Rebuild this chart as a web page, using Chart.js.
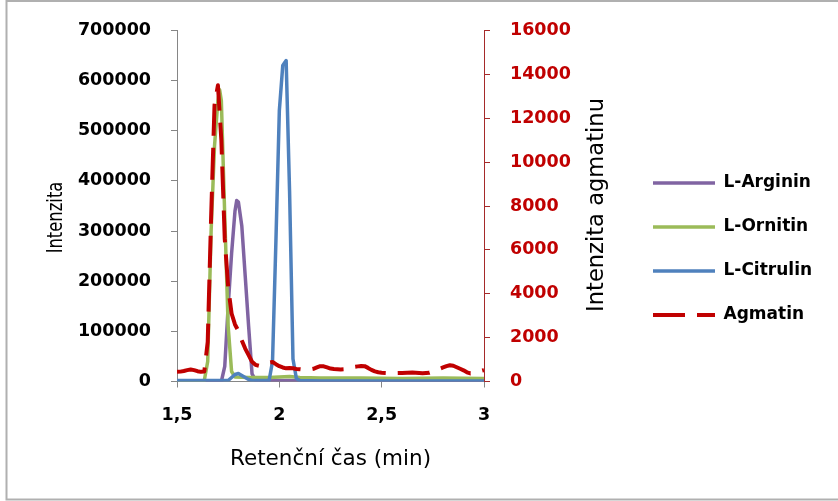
<!DOCTYPE html>
<html>
<head>
<meta charset="utf-8">
<script src="https://cdn.jsdelivr.net/npm/chart.js@4.4.1/dist/chart.umd.min.js"></script>
<style>
  html, body { margin: 0; padding: 0; background: #fff; }
  #wrap { width: 838px; height: 501px; }
</style>
</head>
<body>
<div id="wrap"><canvas id="chart" width="838" height="501"></canvas></div>
<script>
// retention times (min) and intensities
const argininTime = [1.5, 1.6, 1.7167, 1.7333, 1.75, 1.7667, 1.7833, 1.7917, 1.8, 1.8167, 1.8333, 1.85, 1.8667, 1.8833, 2.0, 2.5, 3.0];
const argininValues = [0, 0, 0, 30000, 150000, 255000, 340000, 361000, 358000, 310000, 210000, 110000, 15000, 3000, 2000, 1000, 1000];

const ornitinTime = [1.5, 1.6333, 1.65, 1.6667, 1.6833, 1.7, 1.7083, 1.7167, 1.7333, 1.75, 1.7667, 1.7833, 1.85, 1.95, 2.0, 2.05, 2.1, 2.2, 2.4, 2.6, 2.8, 3.0];
const ornitinValues = [1000, 2000, 40000, 300000, 470000, 560000, 582000, 560000, 330000, 110000, 20000, 9000, 8000, 8000, 9000, 10000, 8000, 7000, 7000, 6000, 7000, 6000];

const citrulinTime = [1.5, 1.6, 1.75, 1.7667, 1.7833, 1.8, 1.8167, 1.8333, 1.85, 1.8667, 1.95, 1.9667, 1.9833, 2.0, 2.0167, 2.0333, 2.05, 2.0667, 2.0833, 2.1, 2.2, 2.5, 3.0];
const citrulinValues = [2000, 2000, 2000, 8000, 14000, 16000, 12000, 8000, 4000, 2000, 2000, 40000, 280000, 540000, 630000, 640000, 380000, 45000, 6000, 2000, 1000, 1000, 1000];

const agmatinTime = [1.5, 1.5167, 1.5333, 1.55, 1.5667, 1.5833, 1.6, 1.6167, 1.6333, 1.65, 1.6667, 1.6833, 1.7, 1.7167, 1.7333, 1.75, 1.7667, 1.7833, 1.8, 1.8167, 1.8333, 1.85, 1.8667, 1.8833, 1.9, 1.9167, 1.9333, 1.95, 1.9667, 1.9833, 2.0, 2.0167, 2.0333, 2.05, 2.0667, 2.0833, 2.1, 2.1167, 2.1333, 2.15, 2.1667, 2.1833, 2.2, 2.2167, 2.2333, 2.25, 2.2667, 2.2833, 2.3, 2.3167, 2.3333, 2.35, 2.3667, 2.3833, 2.4, 2.4167, 2.4333, 2.45, 2.4667, 2.4833, 2.5, 2.55, 2.6, 2.65, 2.7, 2.7333, 2.75, 2.7667, 2.7833, 2.8, 2.8167, 2.8333, 2.85, 2.8667, 2.8833, 2.9, 2.9167, 2.9333, 2.95, 2.9667, 2.9833, 3.0];
const agmatinValues = [440, 450, 480, 520, 550, 520, 470, 440, 450, 1800, 7500, 12600, 13500, 11000, 6500, 4300, 3100, 2600, 2300, 1870, 1500, 1200, 900, 760, 720, 730, 780, 860, 890, 790, 700, 640, 600, 610, 600, 570, 560, 540, 540, 550, 580, 640, 700, 690, 640, 590, 570, 560, 550, 560, 580, 640, 670, 690, 710, 700, 620, 530, 460, 420, 400, 380, 390, 410, 380, 400, 450, 520, 580, 640, 700, 740, 720, 650, 580, 510, 420, 370, 380, 430, 480, 520];

const xTicks = [1.5, 2, 2.5, 3];
const leftMax = 700000, leftStep = 100000;
const rightMax = 16000, rightStep = 2000;

const toPoints = (times, values) => times.map((t, i) => ({ x: t, y: values[i] }));

const DARK_RED = '#C00000';
const tickFont = { family: 'DejaVu Sans', size: 17.5, weight: 'bold' };

// white background, outer frame and the two vertical axis titles
const extras = {
  id: 'extras',
  beforeDraw(chart) {
    const c = chart.ctx;
    c.save();
    c.fillStyle = '#fff';
    c.fillRect(0, 0, chart.width, chart.height);
    c.strokeStyle = '#b0b0b0';
    c.lineWidth = 2;
    c.strokeRect(6.5, 1, 900, 498.5);
    c.restore();
  },
  afterDraw(chart) {
    const c = chart.ctx;
    // the picture is stretched sideways, so the vertical titles are squeezed along their length
    const drawVertical = (text, x, y, size, squeeze) => {
      c.save();
      c.translate(x, y);
      c.rotate(-Math.PI / 2);
      c.scale(squeeze, 1);
      c.font = size + 'px "DejaVu Sans"';
      c.fillStyle = '#000';
      c.textAlign = 'center';
      c.textBaseline = 'alphabetic';
      c.fillText(text, 0, 0);
      c.restore();
    };
    drawVertical('Intenzita', 61.5, 217.5, 21, 0.78);
    drawVertical('Intenzita agmatinu', 603, 205, 22.6, 1);
  }
};

// legend lines with point style lose the dataset dash, put it back
const legendLabels = chart =>
  Chart.defaults.plugins.legend.labels.generateLabels(chart).map(item => ({
    ...item,
    lineWidth: chart.data.datasets[item.datasetIndex].borderWidth,
    lineDash: chart.data.datasets[item.datasetIndex].borderDash || []
  }));

const ctx = document.getElementById('chart').getContext('2d');
new Chart(ctx, {
  type: 'line',
  data: {
    datasets: [
      {
        label: 'L-Arginin',
        data: toPoints(argininTime, argininValues),
        borderColor: '#8064A2',
        backgroundColor: '#8064A2',
        borderWidth: 3.5,
        yAxisID: 'y',
        order: 3
      },
      {
        label: 'L-Ornitin',
        data: toPoints(ornitinTime, ornitinValues),
        borderColor: '#9BBB59',
        backgroundColor: '#9BBB59',
        borderWidth: 3.5,
        yAxisID: 'y',
        order: 2
      },
      {
        label: 'L-Citrulin',
        data: toPoints(citrulinTime, citrulinValues),
        borderColor: '#4F81BD',
        backgroundColor: '#4F81BD',
        borderWidth: 3.5,
        yAxisID: 'y',
        order: 1
      },
      {
        label: 'Agmatin',
        data: toPoints(agmatinTime, agmatinValues),
        borderColor: DARK_RED,
        backgroundColor: DARK_RED,
        borderWidth: 4,
        borderDash: [32, 12],
        yAxisID: 'y2',
        order: 0
      }
    ]
  },
  options: {
    responsive: false,
    animation: false,
    events: [],
    layout: { padding: { left: 44, right: 17, top: 26, bottom: 29 } },
    elements: {
      point: { radius: 0 },
      line: { tension: 0, borderJoinStyle: 'round' }
    },
    plugins: {
      tooltip: { enabled: false },
      legend: {
        position: 'right',
        maxWidth: 195,
        labels: {
          usePointStyle: true,
          pointStyle: 'line',
          pointStyleWidth: 62,
          padding: 27,
          color: '#000',
          font: { family: 'DejaVu Sans', size: 17, weight: 'bold' },
          generateLabels: legendLabels,
          sort: (a, b) => a.datasetIndex - b.datasetIndex
        }
      }
    },
    scales: {
      x: {
        type: 'linear',
        min: xTicks[0],
        max: xTicks[xTicks.length - 1],
        afterBuildTicks: scale => { scale.ticks = xTicks.map(v => ({ value: v })); },
        afterFit: scale => { scale.height = 90.5; },
        grid: { drawOnChartArea: false, drawTicks: true, tickLength: 6, color: '#868686' },
        border: { display: true, color: '#868686', width: 1 },
        ticks: {
          padding: 17,
          color: '#000',
          font: tickFont,
          maxRotation: 0,
          callback: v => String(v).replace('.', ',')
        },
        title: {
          display: true,
          text: 'Retenční čas (min)',
          color: '#000',
          font: { family: 'DejaVu Sans', size: 21.5 },
          padding: { top: 0, bottom: 0 }
        }
      },
      y: {
        position: 'left',
        min: 0,
        max: leftMax,
        afterFit: scale => { scale.width = 133; },
        grid: { drawOnChartArea: false, drawTicks: true, tickLength: 6, color: '#868686' },
        border: { display: true, color: '#868686', width: 1 },
        ticks: {
          stepSize: leftStep,
          padding: 20,
          color: '#000',
          font: tickFont,
          callback: v => String(v)
        }
      },
      y2: {
        position: 'right',
        min: 0,
        max: rightMax,
        afterFit: scale => { scale.width = 142; },
        grid: { drawOnChartArea: false, drawTicks: true, tickLength: 6, color: '#A52A2A' },
        border: { display: true, color: '#A52A2A', width: 1 },
        ticks: {
          stepSize: rightStep,
          padding: 20,
          color: DARK_RED,
          font: tickFont,
          callback: v => String(v)
        }
      }
    }
  },
  plugins: [extras]
});
</script>
</body>
</html>
